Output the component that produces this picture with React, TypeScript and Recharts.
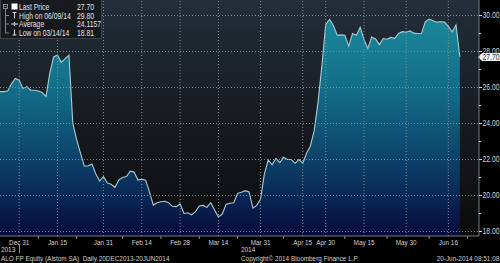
import React from 'react';
import { AreaChart, Area, XAxis, YAxis, CartesianGrid, ReferenceLine } from 'recharts';

// ALO FP Equity daily closes, trading-day index 0 = 20 Dec 2013 ... 120 = 19 Jun 2014
const prices: number[] = [
  25.77, 25.77, 25.8, 26.2, 26.5, 26.4, 25.95, 26.05, 25.85, 25.85,
  25.8, 25.72, 25.5, 26.8, 27.7, 27.8, 27.4, 27.6, 27.8, 24.0,
  23.1, 22.35, 21.64, 21.64, 21.75, 21.2, 20.8, 21.05, 20.7, 20.62,
  20.45, 20.86, 21.0, 21.05, 21.35, 21.3, 20.86, 20.9, 20.85, 20.2,
  19.47, 19.6, 19.65, 19.68, 19.6, 19.4, 19.38, 19.53, 19.0, 19.04,
  18.92, 19.1, 19.42, 19.45, 19.34, 19.6, 19.2, 18.81, 18.97, 19.5,
  19.57, 19.6, 20.12, 20.18, 20.27, 20.2, 19.3, 19.45, 19.8, 21.2,
  21.97, 21.7, 22.06, 21.82, 22.12, 22.0, 22.0, 21.79, 22.0, 21.79,
  22.35, 22.75, 23.6, 25.2, 27.2, 29.5, 29.78, 29.45, 28.9, 28.92,
  28.9, 28.3, 29.0, 28.9, 29.34, 28.66, 28.17, 28.8, 28.7, 28.38,
  28.72, 28.68, 28.78, 28.73, 29.0, 29.1, 29.07, 29.14, 29.02, 29.0,
  29.01, 29.66, 29.8, 29.71, 29.63, 29.65, 29.63, 29.4, 29.08, 29.47,
  27.7,
];

const majorTickIdx: number[] = [5, 15, 27, 37, 47, 57, 68, 79, 85, 95, 106, 117];
const majorTickLabels: string[] = ['Dec 31', 'Jan 15', 'Jan 31', 'Feb 14', 'Feb 28', 'Mar 14', 'Mar 31', 'Apr 15', 'Apr 30', 'May 15', 'May 30', 'Jun 16'];
const minorTickIdx: number[] = [10, 20, 32, 42, 52, 62, 74, 90, 101, 112, 122];
const yTicks: number[] = [18, 19, 20, 21, 22, 23, 24, 25, 26, 27, 28, 29, 30];

const legendLabels: string[] = ['Last Price', 'High on 06/09/14', 'Average', 'Low on 03/14/14'];
const legendValues: string[] = ['27.70', '29.80', '24.1157', '18.81'];
const lastPrice = 27.7;

const data = prices.map((p, i) => ({ i, price: p }));
const labelMap = new Map<number, string>(majorTickIdx.map((t, k) => [t, majorTickLabels[k]]));
const allXTicks = [...majorTickIdx, ...minorTickIdx].sort((a, b) => a - b);

const FONT = "'Liberation Sans', Arial, sans-serif";
const SX = 0.8; // horizontal squeeze to mimic the narrow terminal font
const GRID_COLOR = '#7f8a94';
const GRID_DASH = '1 2';

// date ticks: label + dotted vertical grid line drawn up through the plot
const XTick = (props: any) => {
  const { x, y, payload } = props;
  const label = labelMap.get(payload.value);
  return (
    <g>
      {!label && <line x1={x} x2={x} y1={y} y2={y + 3} stroke="#8a8a8a" strokeWidth={1} />}
      {label && <line x1={x} x2={x} y1={y} y2={0} stroke={GRID_COLOR} strokeWidth={1} strokeDasharray={GRID_DASH} />}
      {label && (
        <text transform={`translate(${x},${y + 8.5}) scale(${SX},1)`} textAnchor="middle" fill="#cfcfcf" fontSize={8} fontFamily={FONT}>
          {label}
        </text>
      )}
    </g>
  );
};

// price ticks: labelled even values carry a dotted horizontal grid line across the plot
const YTick = (props: any) => {
  const { x, y, payload } = props;
  const v = payload.value as number;
  const major = v % 2 === 0;
  return (
    <g>
      {major && <line x1={0} x2={x} y1={y} y2={y} stroke={GRID_COLOR} strokeWidth={1} strokeDasharray={GRID_DASH} />}
      <line x1={x} x2={x + (major ? 3 : 2)} y1={y} y2={y} stroke="#d8d8d8" strokeWidth={1} />
      {major && (
        <text transform={`translate(${x + 3.5},${y + 3}) scale(${SX},1)`} fill="#d8d8d8" fontSize={8.5} fontFamily={FONT}>
          {v.toFixed(2)}
        </text>
      )}
    </g>
  );
};

const LastPriceTag = (props: any) => {
  const vb = props.viewBox || {};
  const tipX = (vb.x || 0) + (vb.width || 0) - 1;
  const y = vb.y || 0;
  return (
    <g>
      <polygon
        points={`${tipX},${y} ${tipX + 4},${y - 4} ${tipX + 22},${y - 4} ${tipX + 22},${y + 4} ${tipX + 4},${y + 4}`}
        fill="#f4f4f4"
      />
      <text transform={`translate(${tipX + 4.5},${y + 3}) scale(${SX},1)`} fill="#333" fontSize={8.5} fontFamily={FONT}>
        {lastPrice.toFixed(2)}
      </text>
    </g>
  );
};

const Legend = () => (
  <svg width={104} height={40} style={{ position: 'absolute', left: 0, top: 0 }}>
    <rect x={0.5} y={-1} width={101} height={39.5} fill="rgba(22,24,27,0.95)" stroke="#3c4146" />
    <rect x={3.5} y={4.5} width={4} height={4} fill="none" stroke="#aaa" strokeWidth={0.8} />
    <line x1={4.5} x2={6.5} y1={6.5} y2={6.5} stroke="#aaa" strokeWidth={0.8} />
    <line x1={5.5} x2={5.5} y1={9} y2={33} stroke="#999" strokeWidth={0.8} />
    <line x1={5.5} x2={9} y1={15.5} y2={15.5} stroke="#999" strokeWidth={0.8} />
    <line x1={5.5} x2={9} y1={24} y2={24} stroke="#999" strokeWidth={0.8} />
    <line x1={5.5} x2={9} y1={33} y2={33} stroke="#999" strokeWidth={0.8} />
    <rect x={11.5} y={3.5} width={6} height={6} fill="#ffffff" />
    <line x1={12.5} x2={16.5} y1={12.5} y2={12.5} stroke="#ddd" strokeWidth={1} />
    <line x1={14.5} x2={14.5} y1={12.5} y2={18.5} stroke="#ddd" strokeWidth={1} />
    <line x1={11} x2={18} y1={24} y2={24} stroke="#ddd" strokeWidth={1} />
    <line x1={14.5} x2={14.5} y1={22} y2={26} stroke="#ddd" strokeWidth={1} />
    <line x1={14.5} x2={14.5} y1={29.5} y2={35} stroke="#ddd" strokeWidth={1} />
    <line x1={12.5} x2={16.5} y1={35} y2={35} stroke="#ddd" strokeWidth={1} />
    {legendLabels.map((l, k) => (
      <g key={l}>
        <text transform={`translate(19,${10.3 + k * 8.5}) scale(${SX},1)`} fill="#e2e2e2" fontSize={8.5} fontFamily={FONT}>{l}</text>
        <text transform={`translate(77,${10.3 + k * 8.5}) scale(${SX},1)`} fill="#e2e2e2" fontSize={8.5} fontFamily={FONT}>{legendValues[k]}</text>
      </g>
    ))}
  </svg>
);

const footStyle: React.CSSProperties = {
  position: 'absolute',
  fontFamily: FONT,
  fontSize: 8,
  color: '#d0d0d0',
  lineHeight: '8px',
  whiteSpace: 'nowrap',
  transform: `scaleX(${SX})`,
  transformOrigin: 'left center',
};

export default function App() {
  return (
    <div style={{ position: 'absolute', left: 0, top: 0, width: 500, height: 263, background: '#000', overflow: 'hidden' }}>
      <AreaChart width={500} height={263} data={data} margin={{ top: 0, right: 0, bottom: 0, left: 0 }}>
        <defs>
          <linearGradient id="plotBg" x1="0" y1="0" x2="0" y2="1">
            <stop offset="0%" stopColor="#232e3a" />
            <stop offset="45%" stopColor="#181d23" />
            <stop offset="100%" stopColor="#0b0b0c" />
          </linearGradient>
          <linearGradient id="areaFill" x1="0" y1="0" x2="0" y2="1">
            <stop offset="0%" stopColor="#19889b" />
            <stop offset="35%" stopColor="#136a86" />
            <stop offset="70%" stopColor="#0b3a64" />
            <stop offset="100%" stopColor="#060a3c" />
          </linearGradient>
        </defs>
        <CartesianGrid horizontal={false} vertical={false} fill="url(#plotBg)" />
        <XAxis
          dataKey="i"
          type="number"
          domain={[0, 125]}
          allowDataOverflow
          ticks={allXTicks}
          interval={0}
          tick={<XTick />}
          tickLine={false}
          tickSize={0}
          tickMargin={0}
          height={27}
          axisLine={{ stroke: '#7a7a7a' }}
        />
        <YAxis
          orientation="right"
          type="number"
          domain={[17.75, 30.86]}
          allowDataOverflow
          ticks={yTicks}
          interval={0}
          tick={<YTick />}
          tickLine={false}
          tickSize={0}
          tickMargin={0}
          width={21}
          axisLine={{ stroke: '#7a7a7a' }}
        />
        <Area
          type="linear"
          dataKey="price"
          stroke="#a9ccd4"
          strokeWidth={1.1}
          fill="url(#areaFill)"
          fillOpacity={1}
          baseValue="dataMin"
          isAnimationActive={false}
          dot={false}
          activeDot={false}
        />
        <ReferenceLine y={lastPrice} stroke="none" label={<LastPriceTag />} />
      </AreaChart>
      <Legend />
      <div style={{ ...footStyle, left: 1, top: 246 }}>2013</div>
      <div style={{ position: 'absolute', left: 19, top: 245, width: 1, height: 8, background: '#9a9a9a' }} />
      <div style={{ ...footStyle, left: 241, top: 246 }}>2014</div>
      <div style={{ ...footStyle, left: 1, top: 254.5 }}>ALO FP Equity (Alstom SA)&nbsp;&nbsp;Daily 20DEC2013-20JUN2014</div>
      <div style={{ ...footStyle, left: 241, top: 254.5 }}>Copyright© 2014 Bloomberg Finance L.P.</div>
      <div style={{ ...footStyle, right: 1, top: 254.5, transformOrigin: 'right center' }}>20-Jun-2014 08:51:08</div>
    </div>
  );
}
